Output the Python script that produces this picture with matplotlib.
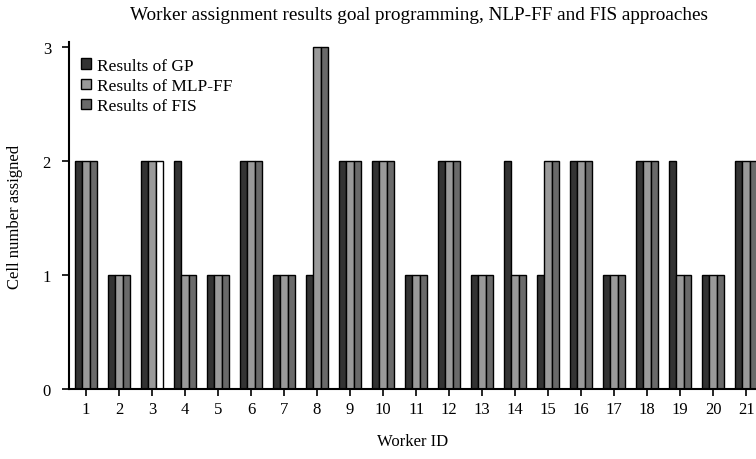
import matplotlib
matplotlib.use("Agg")
import matplotlib.pyplot as plt
import numpy as np

plt.rcParams['font.family'] = ['Liberation Serif', 'DejaVu Serif']

# worker assignment results (cell number)
workers = list(range(1, 22))
gp = [2, 1, 2, 2, 1, 2, 1, 1, 2, 2, 1, 2, 1, 2, 1, 2, 1, 2, 2, 1, 2]
mlp_ff = [2, 1, 2, 1, 1, 2, 1, 3, 2, 2, 1, 2, 1, 1, 2, 2, 1, 2, 1, 1, 2]
fis = [2, 1, 2, 1, 1, 2, 1, 3, 2, 2, 1, 2, 1, 1, 2, 2, 1, 2, 1, 1, 2]
labels = ["Results of GP", "Results of MLP-FF", "Results of FIS"]

fig = plt.figure(figsize=(7.56, 4.6), dpi=100)
ax = fig.add_axes([69/756, 1 - 390/460, 1 - 69/756, 347/460])

x = np.array(workers)
w = 0.225
colors = ["#333333", "#9a9a9a", "#6a6a6a"]
series = [gp, mlp_ff, fis]
containers = []
for i, (vals, c, lab) in enumerate(zip(series, colors, labels)):
    bc = ax.bar(x + (i - 1) * w, vals, width=w, color=c, edgecolor="black",
                linewidth=1.0, label=lab)
    containers.append(bc)

# FIS bar of worker 3 is drawn unfilled in the original
containers[2][2].set_facecolor("white")

ax.set_xlim(0.485, 21.3)
ax.set_ylim(0, 3.04)
ax.set_xticks(workers)
ax.set_yticks([0, 1, 2, 3])
ax.tick_params(axis="both", direction="out", length=5, width=1.2, labelsize=12)
ax.tick_params(axis="y", pad=8)
for s in ["top", "right"]:
    ax.spines[s].set_visible(False)
for s in ["left", "bottom"]:
    ax.spines[s].set_linewidth(1.5)

ax.set_ylabel("Cell number assigned", fontsize=12, labelpad=14)
ax.set_xlabel("Worker ID", fontsize=12, labelpad=12)

leg = ax.legend(loc="upper left", bbox_to_anchor=(0.0, 0.99), frameon=False,
                fontsize=12.5, handlelength=0.55, handleheight=0.55,
                handletextpad=0.35, labelspacing=0.25, borderaxespad=0.3)

fig.text(419/756, 1 - 15/460, "Worker assignment results goal programming, NLP-FF and FIS approaches",
         ha="center", va="center", fontsize=13.8)

fig.savefig("out.png", dpi=100)
